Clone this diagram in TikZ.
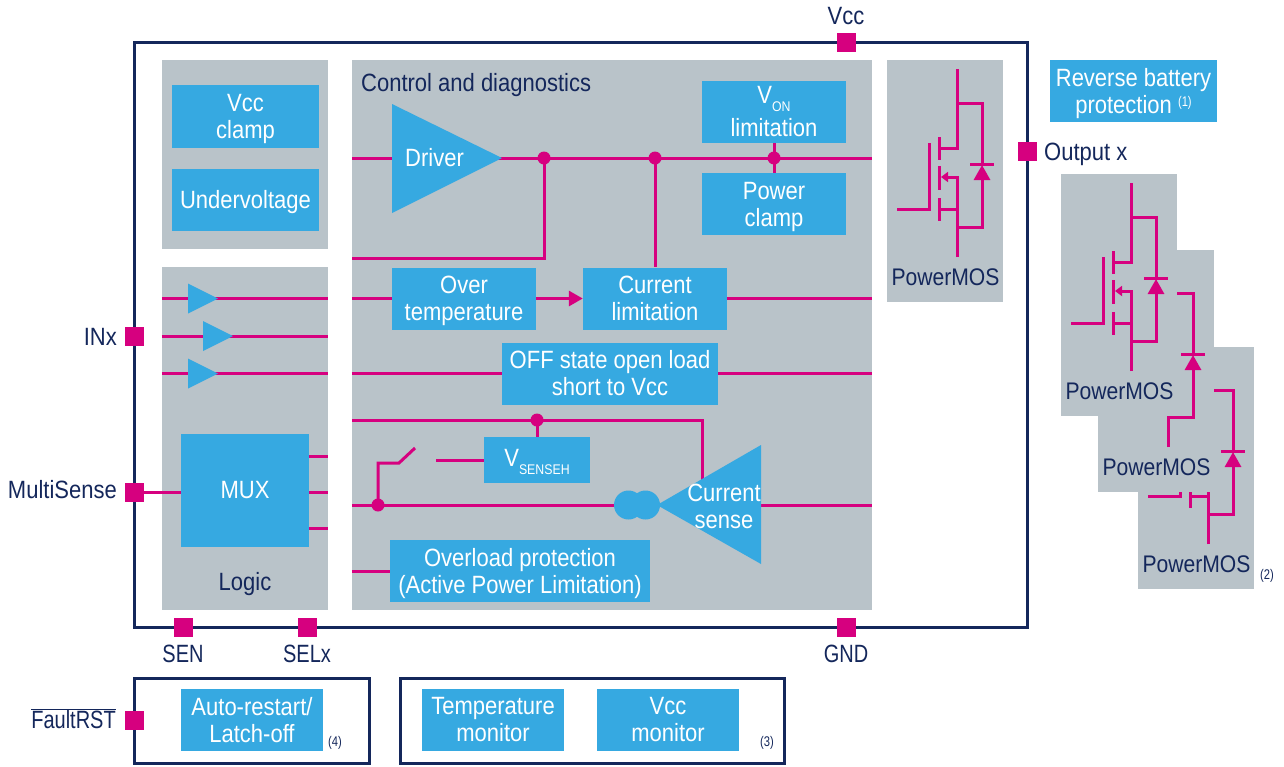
\documentclass[tikz,border=0pt]{standalone}
\usepackage{fontspec}
\setmainfont[FakeStretch=0.88]{Liberation Sans}
\newfontfamily\capsfont[FakeStretch=0.8]{Liberation Sans}
\usetikzlibrary{arrows.meta}

\definecolor{cpanel}{RGB}{185,195,201}
\definecolor{cblue}{RGB}{54,169,225}
\definecolor{cpin}{RGB}{214,0,127}
\definecolor{cnavy}{RGB}{20,39,91}

\newcommand{\lowtxt}[1]{\smash{\raisebox{-8pt}{\fontsize{14}{14}\selectfont #1}}}
\newcommand{\tl}{\rule{0pt}{23pt}}

\tikzset{
    every picture/.style={x=1pt,y=-1pt,line join=miter},
    wire/.style={draw=cpin,line width=3pt},
    frame/.style={draw=cnavy,line width=3pt,inner sep=0pt},
    panel/.style={fill=cpanel,inner sep=0pt},
    boxtxt/.style={text=white,align=center,inner sep=0pt,font=\fontsize{25}{27}\selectfont},
    bluebox/.style={boxtxt,fill=cblue},
    smallbox/.style={bluebox,minimum width=144,minimum height=62},
    monbox/.style={bluebox,minimum width=142,minimum height=62},
    pin/.style={fill=cpin,inner sep=0pt,minimum size=19},
    jdot/.style={circle,fill=cpin,inner sep=0pt,minimum size=13},
    lbl/.style={text=cnavy,align=center,inner sep=0pt,font=\fontsize{25}{27}\selectfont},
    pmlbl/.style={lbl,font=\fontsize{24}{27}\selectfont},
    caplbl/.style={text=cnavy,inner sep=0pt,font=\fontsize{25}{27}\capsfont},
    note/.style={text=cnavy,inner sep=0pt,font=\fontsize{14}{14}\capsfont},
    fwdtip/.style={-{Triangle[length=14pt,width=15pt]}},
    diodetip/.style={-{Triangle[length=15pt,width=16pt]}},
    srctip/.style={-{Triangle[length=7pt,width=10pt]}}
}

\begin{document}
\begin{tikzpicture}
    \useasboundingbox (0,0) rectangle (1284,766);

    % outer frames
    \node[frame,minimum width=893,minimum height=585] (chip) at (580.5,334.5) {};
    \node[frame,minimum width=235,minimum height=85] (rstframe) at (251.5,720.5) {};
    \node[frame,minimum width=384,minimum height=85] (monframe) at (592,720.5) {};

    % grey panels
    \node[panel,minimum width=166,minimum height=189] (supply) at (245,154.5) {};
    \node[panel,minimum width=166,minimum height=343] (logic) at (245,438.5) {};
    \node[panel,minimum width=520,minimum height=550] (ctrl) at (612,335) {};

    % power stages, back to front
    \foreach \ox/\oy/\n in {251/287/c,211/190/b,174/114/a,0/0/m}{
        \begin{scope}[shift={(\ox,\oy)}]
            \node[panel,minimum width=116,minimum height=242] (pm\n) at (945,181) {};
            \draw[wire] (957,69) -- (957,148) -- (938,148);
            \draw[wire] (957,103) -- (982,103) -- (982,164);
            \draw[wire] (970,164) -- (994,164);
            \draw[wire,diodetip] (957,227) -- (982,227) -- (982,165);
            \draw[wire] (957,257) -- (957,177);
            \draw[wire,srctip] (958.5,177) -- (941,177);
            \draw[wire] (938,209) -- (957,209);
            \draw[wire] (939,137) -- (939,160);
            \draw[wire] (939,166) -- (939,190);
            \draw[wire] (939,198) -- (939,221);
            \draw[wire] (929,143) -- (929,209) -- (897,209);
            \node[pmlbl] (pmtxt\n) at (945.5,277) {PowerMOS};
        \end{scope}
    }

    % pins
    \node[pin] (pinvcc) at (846,42) {};
    \node[pin] (pinout) at (1027,151) {};
    \node[pin] (pinin) at (134,336) {};
    \node[pin] (pinms) at (134,492) {};
    \node[pin] (pinsen) at (183,627) {};
    \node[pin] (pinsel) at (307,627) {};
    \node[pin] (pingnd) at (846,627) {};
    \node[pin] (pinrst) at (134,720) {};

    % pin labels
    \node[lbl] (txtvcc) at (846,16) {Vcc};
    \node[lbl,anchor=west] (txtout) at (1044,154) {Output x};
    \node[lbl,anchor=east] (txtin) at (117,337) {INx};
    \node[lbl,anchor=east] (txtms) at (117,490) {MultiSense};
    \node[caplbl] (txtsen) at (183,654) {SEN};
    \node[caplbl] (txtsel) at (307,654) {SELx};
    \node[caplbl] (txtgnd) at (846,654) {GND};
    \node[caplbl,anchor=east] (txtrst) at (116,719) {$\overline{\mbox{FaultRST}}$};

    % blue boxes
    \node[bluebox,minimum width=147,minimum height=63] (vccclamp) at (245.5,116.5) {\tl Vcc\\clamp};
    \node[bluebox,minimum width=147,minimum height=62] (undervolt) at (245.5,200) {\tl Undervoltage};
    \node[smallbox] (vonlim) at (774,112) {V\lowtxt{ON}\\[6pt]limitation};
    \node[smallbox] (pwrclamp) at (774,204) {\tl Power\\clamp};
    \node[smallbox] (overtemp) at (464,298.5) {\tl Over\\temperature};
    \node[smallbox] (curlim) at (655,298.5) {Current\\limitation};
    \node[bluebox,minimum width=216,minimum height=62] (offstate) at (610,373.5) {OFF state open load\\short to Vcc};
    \node[bluebox,minimum width=106,minimum height=46] (vsenseh) at (537,460) {\raisebox{4pt}{V\lowtxt{SENSEH}}};
    \node[bluebox,minimum width=260,minimum height=62] (overload) at (520,571) {\tl Overload protection\\(Active Power Limitation)};
    \node[bluebox,minimum width=128,minimum height=113] (mux) at (245,490.5) {MUX};
    \node[monbox] (autorst) at (252,720) {Auto-restart/\\Latch-off};
    \node[monbox] (tempmon) at (493,720) {Temperature\\monitor};
    \node[monbox] (vccmon) at (668,720) {Vcc\\monitor};
    \node[bluebox,minimum width=167,minimum height=62] (revbat) at (1133.5,91) {\tl Reverse battery\\protection \raisebox{7pt}{\fontsize{14}{14}\capsfont (1)}};

    % junctions and free wire ends
    \coordinate (drvdot) at (544,158);
    \coordinate (limdot) at (655,158);
    \coordinate (clampdot) at (774,158);
    \coordinate (sensedot) at (537,420);
    \coordinate (swdot) at (378,505);
    \coordinate (fbturn) at (544,258);
    \coordinate (senseturn) at (702,420);
    \coordinate (sensetap) at (702,490);
    \coordinate (swtop) at (378,463);
    \coordinate (swknee) at (399,463);
    \coordinate (swend) at (415,448);
    \coordinate (swfix) at (436,460);

    % wires
    \draw[wire] (ctrl.west |- drvdot) -- (ctrl.east |- drvdot);
    \draw[wire] (drvdot) -- (fbturn) -- (ctrl.west |- fbturn);
    \draw[wire] (limdot) -- (curlim.north);
    \draw[wire] (vonlim.south) -- (pwrclamp.north);
    \draw[wire] (ctrl.west |- overtemp) -- (overtemp.west);
    \draw[wire,fwdtip] (overtemp.east) -- (curlim.west);
    \draw[wire] (curlim.east) -- (ctrl.east |- curlim);
    \draw[wire] (ctrl.west |- offstate) -- (offstate.west);
    \draw[wire] (offstate.east) -- (ctrl.east |- offstate);
    \draw[wire] (ctrl.west |- sensedot) -- (senseturn) -- (sensetap);
    \draw[wire] (sensedot) -- (vsenseh.north);
    \draw[wire] (swdot) -- (swtop) -- (swknee) -- (swend);
    \draw[wire] (swfix) -- (vsenseh.west);
    \draw[wire] (ctrl.west |- swdot) -- (ctrl.east |- swdot);
    \draw[wire] (ctrl.west |- overload) -- (overload.west);
    \draw[wire] (pinms) -- (mux.west |- pinms);
    \foreach \wy in {456.5,492,528}{
        \draw[wire] (mux.east |- 0,\wy) -- (logic.east |- 0,\wy);
    }

    % amplifier shapes go over the wires
    \foreach \bx/\by in {188/298.5,203/336,188/373.5}{
        \draw[wire] (logic.west |- 0,\by) -- (logic.east |- 0,\by);
        \fill[cblue] (\bx,\by) ++(0,-15) -- ++(30,15) -- ++(-30,15) -- cycle;
    }
    \fill[cblue] (392,104) -- (502,158) -- (392,213) -- cycle;
    \fill[cblue] (657,505) -- (761,445) -- (761,564) -- cycle;
    \fill[cblue] (628.5,505) circle (14.5);
    \fill[cblue] (645.5,505) circle (14.5);

    \node[jdot] (j1) at (drvdot) {};
    \node[jdot] (j2) at (limdot) {};
    \node[jdot] (j3) at (clampdot) {};
    \node[jdot] (j4) at (sensedot) {};
    \node[jdot] (j5) at (swdot) {};

    % text on panels
    \node[lbl,anchor=west] (ctrltxt) at (361,85) {Control and diagnostics};
    \node[lbl] (logictxt) at (245,584) {Logic};
    \node[boxtxt] (drvtxt) at (434.5,158) {Driver};
    \node[boxtxt] (sensetxt) at (724,506) {Current\\sense};
    \node[note] (note1) at (1267,576) {(2)};
    \node[note] (note2) at (767,743) {(3)};
    \node[note] (note3) at (335,743) {(4)};
\end{tikzpicture}
\end{document}
